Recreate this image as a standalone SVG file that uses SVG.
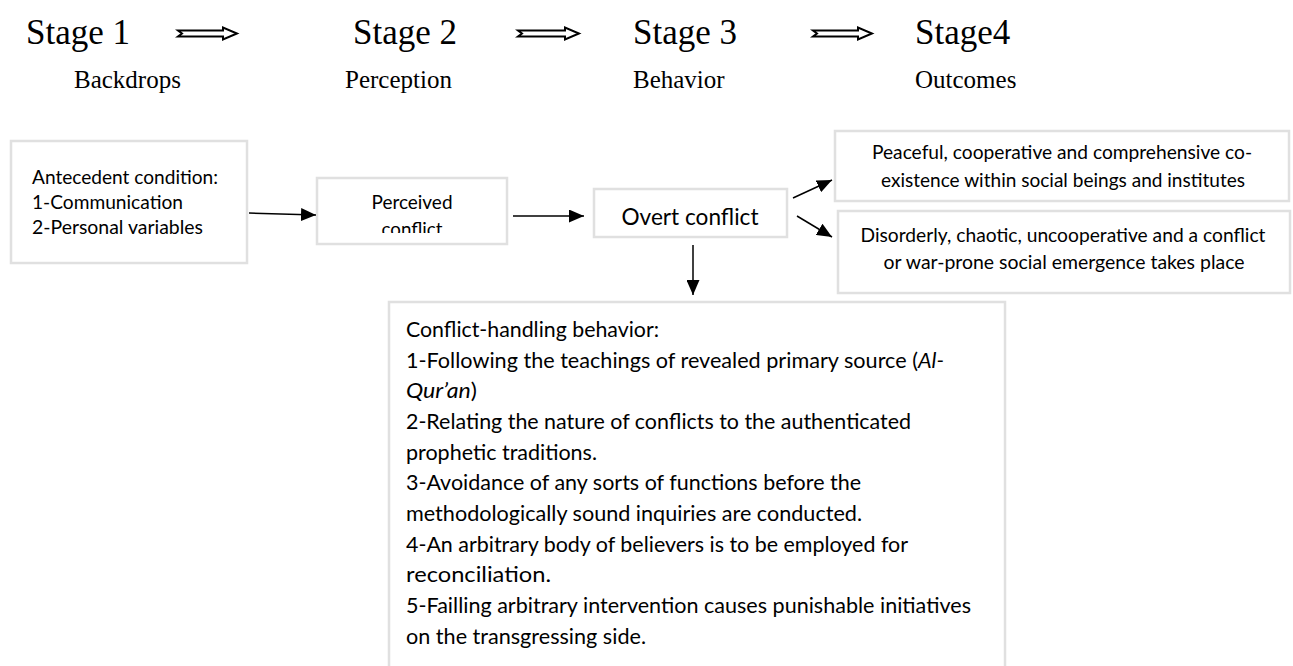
<svg xmlns="http://www.w3.org/2000/svg" width="1293" height="666" viewBox="0 0 1293 666">
<defs>
<style>
.stage{font-family:"Liberation Serif",serif;font-size:35px;fill:#000}
.sub{font-family:"Liberation Serif",serif;font-size:25px;fill:#000}
.box{fill:#fff;stroke:#e0e0e0;stroke-width:2.5}
.t{font-family:Lato,"Open Sans",sans-serif;font-size:19.3px;fill:#000}
.h{font-family:Lato,"Open Sans",sans-serif;font-size:21.5px;fill:#000}
.conn{stroke:#000;stroke-width:1.5;fill:none}
.dbl{fill:#fff;stroke:#000;stroke-width:2;stroke-linejoin:miter}
</style>
<marker id="ah" viewBox="0 0 15 13" refX="15" refY="6.5" markerWidth="15" markerHeight="13" markerUnits="userSpaceOnUse" orient="auto">
<path d="M0,0 L15,6.5 L0,13 z" fill="#000"/>
</marker>
<clipPath id="pc"><rect x="318" y="179" width="188" height="54"/></clipPath>
</defs>
<g id="header">
<text class="stage" x="26" y="44">Stage 1</text>
<text class="stage" x="353" y="44">Stage 2</text>
<text class="stage" x="633" y="44">Stage 3</text>
<text class="stage" x="915" y="44">Stage4</text>
<text class="sub" x="74" y="88">Backdrops</text>
<text class="sub" x="345" y="88">Perception</text>
<text class="sub" x="633" y="88">Behavior</text>
<text class="sub" x="915" y="88">Outcomes</text>
</g>
<g id="stage-arrows">
<path class="dbl" d="M178,30.5 L223,30.5 L223,27.5 L237,33.5 L223,39.5 L223,36.5 L178,36.5 L182,33.5 z"/>
<path class="dbl" d="M518,30.5 L565,30.5 L565,27.5 L579,33.5 L565,39.5 L565,36.5 L518,36.5 L522,33.5 z"/>
<path class="dbl" d="M813,30.5 L858,30.5 L858,27.5 L872,33.5 L858,39.5 L858,36.5 L813,36.5 L817,33.5 z"/>
</g>
<g id="antecedent">
<rect class="box" x="11" y="141" width="236" height="122"/>
<text class="t" x="32" y="184" textLength="186" lengthAdjust="spacingAndGlyphs">Antecedent condition:</text>
<text class="t" x="32" y="209" textLength="151" lengthAdjust="spacingAndGlyphs">1-Communication</text>
<text class="t" x="32" y="234" textLength="171" lengthAdjust="spacingAndGlyphs">2-Personal variables</text>
</g>
<g id="perceived">
<rect class="box" x="317" y="178" width="190" height="66"/>
<g clip-path="url(#pc)">
<text class="t" x="412" y="209" text-anchor="middle" textLength="81" lengthAdjust="spacingAndGlyphs">Perceived</text>
<text class="t" x="412" y="236" text-anchor="middle" textLength="61" lengthAdjust="spacingAndGlyphs">conflict</text>
</g>
</g>
<g id="overt">
<rect class="box" x="594" y="189" width="193" height="48"/>
<text x="690" y="225" text-anchor="middle" textLength="137" lengthAdjust="spacingAndGlyphs" style="font-family:Lato,'Open Sans',sans-serif;font-size:22.5px">Overt conflict</text>
</g>
<g id="peaceful">
<rect class="box" x="835" y="131" width="454" height="70"/>
<text class="t" x="1062" y="159" text-anchor="middle" textLength="380" lengthAdjust="spacingAndGlyphs">Peaceful, cooperative and comprehensive co-</text>
<text class="t" x="1063" y="187" text-anchor="middle" textLength="364" lengthAdjust="spacingAndGlyphs">existence within social beings and institutes</text>
</g>
<g id="disorderly">
<rect class="box" x="838" y="211" width="452" height="82"/>
<text class="t" x="1063" y="242" text-anchor="middle" textLength="405" lengthAdjust="spacingAndGlyphs">Disorderly, chaotic, uncooperative and a conflict</text>
<text class="t" x="1064" y="269" text-anchor="middle" textLength="361" lengthAdjust="spacingAndGlyphs">or war-prone social emergence takes place</text>
</g>
<g id="handling">
<rect class="box" x="389" y="302" width="616" height="380"/>
<text class="h" x="406" y="337" textLength="253" lengthAdjust="spacingAndGlyphs">Conflict-handling behavior:</text>
<text class="h" x="406" y="367.7" textLength="538" lengthAdjust="spacingAndGlyphs">1-Following the teachings of revealed primary source (<tspan font-style="italic">Al-</tspan></text>
<text class="h" x="406" y="398.3" textLength="71" lengthAdjust="spacingAndGlyphs"><tspan font-style="italic">Qur’an</tspan>)</text>
<text class="h" x="406" y="429" textLength="505" lengthAdjust="spacingAndGlyphs">2-Relating the nature of conflicts to the authenticated</text>
<text class="h" x="406" y="459.6" textLength="191" lengthAdjust="spacingAndGlyphs">prophetic traditions.</text>
<text class="h" x="406" y="490.3" textLength="455" lengthAdjust="spacingAndGlyphs">3-Avoidance of any sorts of functions before the</text>
<text class="h" x="406" y="521" textLength="456" lengthAdjust="spacingAndGlyphs">methodologically sound inquiries are conducted.</text>
<text class="h" x="406" y="551.6" textLength="502" lengthAdjust="spacingAndGlyphs">4-An arbitrary body of believers is to be employed for</text>
<text class="h" x="406" y="582.2" textLength="145" lengthAdjust="spacingAndGlyphs">reconciliation.</text>
<text class="h" x="406" y="612.9" textLength="565" lengthAdjust="spacingAndGlyphs">5-Failling arbitrary intervention causes punishable initiatives</text>
<text class="h" x="406" y="643.5" textLength="240" lengthAdjust="spacingAndGlyphs">on the transgressing side.</text>
</g>
<g id="connectors">
<line class="conn" x1="249" y1="213" x2="316" y2="215" marker-end="url(#ah)"/>
<line class="conn" x1="513" y1="216" x2="584" y2="216" marker-end="url(#ah)"/>
<line class="conn" x1="793" y1="198" x2="832" y2="180" marker-end="url(#ah)"/>
<line class="conn" x1="797" y1="216" x2="832" y2="237" marker-end="url(#ah)"/>
<line class="conn" x1="693" y1="245" x2="693" y2="295" marker-end="url(#ah)"/>
</g>
</svg>
